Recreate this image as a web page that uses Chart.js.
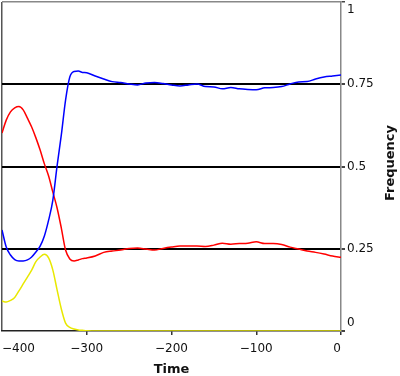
<!DOCTYPE html>
<html>
<head>
<meta charset="utf-8">
<script src="https://cdn.jsdelivr.net/npm/chart.js@4/dist/chart.umd.min.js"></script>
<style>
  html, body { margin: 0; padding: 0; background: #fff; }
  #chart { display: block; }
</style>
</head>
<body>
<canvas id="chart" width="400" height="376"></canvas>
<script>
// Time axis samples (5 steps in the fast part, 10 afterwards)
const times = [
  -400, -395, -390, -385, -380, -375, -370, -365, -360, -355, -350,
  -345, -340, -335, -330, -325, -320, -315, -310, -305, -300,
  -290, -280, -270, -260, -250, -240, -230, -220, -210, -200,
  -190, -180, -170, -160, -150, -140, -130, -120, -110, -100,
  -90, -80, -70, -60, -50, -40, -30, -20, -10, 0
];

const blueSeries = [
  0.307, 0.255, 0.231, 0.217, 0.213, 0.213, 0.216, 0.225, 0.240, 0.258, 0.289,
  0.337, 0.398, 0.502, 0.596, 0.702, 0.772, 0.789, 0.790, 0.786, 0.785,
  0.775, 0.766, 0.758, 0.755, 0.751, 0.748, 0.754, 0.755, 0.752, 0.748,
  0.745, 0.748, 0.751, 0.743, 0.742, 0.736, 0.740, 0.736, 0.734, 0.733,
  0.739, 0.740, 0.743, 0.751, 0.757, 0.758, 0.766, 0.772, 0.775, 0.778
];

const redSeries = [
  0.602, 0.641, 0.666, 0.678, 0.682, 0.672, 0.647, 0.620, 0.587, 0.550, 0.508,
  0.471, 0.422, 0.374, 0.313, 0.246, 0.219, 0.213, 0.216, 0.220, 0.222,
  0.228, 0.239, 0.243, 0.246, 0.251, 0.252, 0.249, 0.246, 0.251, 0.255,
  0.258, 0.258, 0.258, 0.257, 0.261, 0.267, 0.264, 0.266, 0.267, 0.271,
  0.266, 0.266, 0.263, 0.255, 0.249, 0.243, 0.239, 0.234, 0.228, 0.224
];

const yellowSeries = [
  0.091, 0.088, 0.093, 0.102, 0.122, 0.143, 0.164, 0.185, 0.211, 0.225, 0.233,
  0.222, 0.185, 0.125, 0.067, 0.024, 0.011, 0.006, 0.003, 0.002, 0.001,
  0, 0, 0, 0, 0, 0, 0, 0, 0, 0,
  0, 0, 0, 0, 0, 0, 0, 0, 0, 0,
  0, 0, 0, 0, 0, 0, 0, 0, 0, 0
];

const xTicks = [-400, -300, -200, -100, 0];
const yTicks = [0, 0.25, 0.5, 0.75, 1];

const fontFamily = '"DejaVu Sans", sans-serif';

function toPoints(values) {
  return values.map((v, i) => ({ x: times[i], y: v }));
}

function lineSet(label, values, color) {
  return {
    label: label,
    data: toPoints(values),
    borderColor: color,
    backgroundColor: color,
    borderWidth: 1.5,
    pointRadius: 0,
    cubicInterpolationMode: 'monotone',
    fill: false
  };
}

// Vertical "Frequency" title, reading bottom to top
const frequencyTitle = {
  id: 'frequencyTitle',
  afterDraw(chart) {
    const ctx = chart.ctx;
    ctx.save();
    ctx.translate(391, 163);
    ctx.rotate(-Math.PI / 2);
    ctx.font = 'bold 13px ' + fontFamily;
    ctx.fillStyle = '#111';
    ctx.textAlign = 'center';
    ctx.textBaseline = 'middle';
    ctx.fillText('Frequency', 0, 0);
    ctx.restore();
  }
};

new Chart(document.getElementById('chart'), {
  type: 'line',
  data: {
    datasets: [
      lineSet('Blue', blueSeries, '#0000ff'),
      lineSet('Red', redSeries, '#ff0000'),
      lineSet('Yellow', yellowSeries, '#e8e800')
    ]
  },
  options: {
    responsive: false,
    devicePixelRatio: 1,
    animation: false,
    layout: { padding: { left: 2, top: 2, right: 0, bottom: 0 } },
    plugins: {
      legend: { display: false },
      tooltip: { enabled: false }
    },
    scales: {
      x: {
        type: 'linear',
        position: 'bottom',
        min: -400,
        max: 0,
        afterBuildTicks: function(scale) {
          scale.ticks = xTicks.map(v => ({ value: v }));
        },
        afterFit: function(scale) {
          scale.height = 45;
          scale.paddingLeft = 0;
          scale.paddingRight = 0;
        },
        border: { display: true, color: '#222', width: 1.5 },
        grid: {
          drawOnChartArea: true,
          color: ctx => (ctx.tick && ctx.tick.value === -400) ? '#555' : 'rgba(0,0,0,0)',
          tickColor: ctx => (ctx.tick && ctx.tick.value === -400) ? 'rgba(0,0,0,0)' : '#333',
          lineWidth: 1.5,
          tickLength: 4
        },
        ticks: {
          align: 'inner',
          padding: 7,
          maxRotation: 0,
          color: '#111',
          font: { family: fontFamily, size: 12 },
          callback: value => String(value).replace('-', '\u2212')
        },
        title: {
          display: true,
          text: 'Time',
          color: '#111',
          font: { family: fontFamily, size: 13, weight: 'bold' },
          padding: { top: 0, bottom: -1 }
        }
      },
      y: {
        type: 'linear',
        position: 'right',
        min: 0,
        max: 1,
        afterBuildTicks: function(scale) {
          scale.ticks = yTicks.map(v => ({ value: v }));
        },
        afterFit: function(scale) {
          scale.width = 59;
          scale.paddingTop = 0;
          scale.paddingBottom = 0;
        },
        border: { display: true, color: '#888', width: 1.5 },
        grid: {
          color: ctx => {
            const v = ctx.tick ? ctx.tick.value : null;
            if (v === 1) return '#888';
            if (v === 0) return 'rgba(0,0,0,0)';
            return '#000';
          },
          lineWidth: ctx => (ctx.tick && ctx.tick.value === 1) ? 1.5 : 2,
          tickColor: '#444',
          tickLength: 4
        },
        ticks: {
          padding: 2,
          color: '#111',
          font: { family: fontFamily, size: 12, lineHeight: 1.35 },
          callback: value => {
            if (value === 1) return ['', '1'];
            if (value === 0) return ['0', ''];
            return String(value);
          }
        },
        title: { display: false }
      }
    }
  },
  plugins: [frequencyTitle]
});
</script>
</body>
</html>
